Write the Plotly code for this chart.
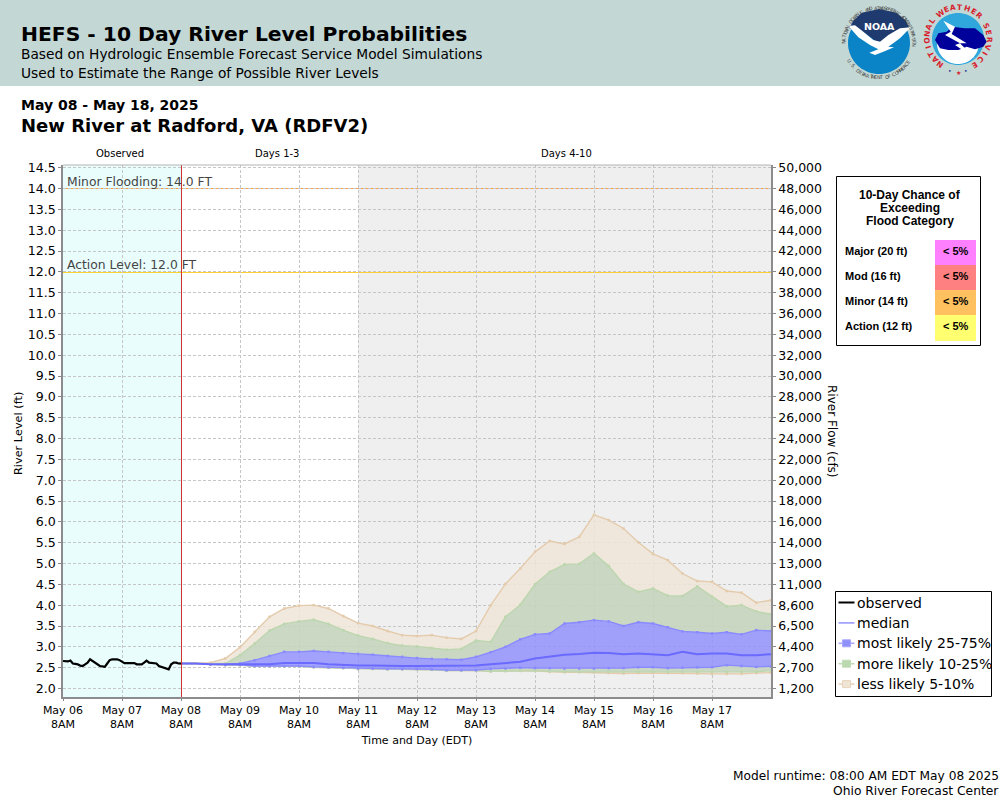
import math
import pandas as pd
import plotly.graph_objects as go

# ---------- data ----------
obs_start, obs_end = "2025-05-06 08:00", "2025-05-08 08:00"
fc_start, fc_end = "2025-05-08 08:00", "2025-05-18 08:00"
observed = [2.66,2.65,2.65,2.67,2.60,2.59,2.58,2.55,2.54,2.58,2.62,2.70,2.66,2.62,2.58,2.54,2.53,2.52,
            2.60,2.68,2.70,2.70,2.70,2.68,2.64,2.61,2.61,2.61,2.61,2.61,2.58,2.58,2.58,2.62,2.67,2.62,
            2.61,2.61,2.60,2.54,2.52,2.50,2.48,2.46,2.58,2.62,2.62,2.60,2.60]
p95 = [2.60,2.60,2.62,2.72,2.99,3.36,3.72,3.92,3.99,4.00,3.92,3.74,3.57,3.50,3.38,3.28,3.26,3.28,3.22,3.19,3.38,
       4.00,4.51,4.88,5.28,5.54,5.47,5.64,6.17,6.04,5.84,5.51,5.23,5.08,4.76,4.58,4.56,4.34,4.30,4.06,4.12]
p90 = [2.60,2.60,2.60,2.60,2.80,3.08,3.39,3.55,3.61,3.65,3.55,3.40,3.27,3.19,3.09,3.03,3.01,2.97,2.93,2.95,3.15,
       3.12,3.72,4.01,4.50,4.80,4.98,4.99,5.24,4.94,4.51,4.32,4.40,4.23,4.22,4.45,4.20,3.97,4.00,3.85,3.78]
p75 = [2.60,2.60,2.59,2.58,2.60,2.68,2.78,2.88,2.88,2.90,2.88,2.85,2.83,2.81,2.78,2.76,2.73,2.71,2.70,2.69,2.76,
       2.87,3.00,3.18,3.30,3.32,3.56,3.59,3.64,3.61,3.50,3.59,3.56,3.47,3.37,3.35,3.32,3.35,3.30,3.40,3.38]
median = [2.60,2.60,2.58,2.58,2.58,2.58,2.58,2.61,2.61,2.61,2.58,2.56,2.55,2.55,2.54,2.54,2.54,2.54,2.54,2.54,2.55,
          2.58,2.61,2.64,2.72,2.76,2.81,2.83,2.86,2.85,2.82,2.84,2.82,2.80,2.88,2.82,2.84,2.84,2.80,2.80,2.82]
p25 = [2.60,2.60,2.58,2.57,2.57,2.54,2.54,2.54,2.54,2.52,2.51,2.50,2.48,2.48,2.47,2.47,2.47,2.46,2.44,2.44,2.44,
       2.47,2.48,2.50,2.49,2.49,2.48,2.48,2.48,2.49,2.49,2.51,2.51,2.49,2.50,2.51,2.51,2.56,2.54,2.52,2.53]
p10 = [2.60,2.60,2.58,2.56,2.56,2.53,2.53,2.53,2.53,2.51,2.50,2.49,2.47,2.47,2.46,2.46,2.46,2.45,2.43,2.43,2.43,
       2.41,2.42,2.43,2.43,2.41,2.40,2.40,2.40,2.40,2.39,2.40,2.40,2.40,2.40,2.40,2.40,2.40,2.40,2.40,2.43]
p5  = [2.60,2.60,2.58,2.56,2.56,2.53,2.53,2.53,2.53,2.51,2.50,2.49,2.47,2.47,2.46,2.46,2.46,2.45,2.43,2.43,2.43,
       2.41,2.42,2.42,2.42,2.40,2.39,2.39,2.38,2.37,2.36,2.37,2.37,2.37,2.37,2.36,2.35,2.35,2.35,2.37,2.38]
minor_level, action_level = 14.0, 12.0
left_ticks = [14.5,14.0,13.5,13.0,12.5,12.0,11.5,11.0,10.5,10.0,9.5,9.0,8.5,8.0,7.5,7.0,6.5,6.0,5.5,5.0,4.5,4.0,3.5,3.0,2.5,2.0]
flow_labels = ["50,000","48,000","46,000","44,000","42,000","40,000","38,000","36,000","34,000","32,000","30,000",
               "28,000","26,000","24,000","22,000","20,000","18,000","16,000","14,000","13,000","11,000","8,600",
               "6,500","4,400","2,700","1,200"]
date_ticks = pd.date_range("2025-05-06 08:00", "2025-05-17 08:00", freq="D")
date_labels = ["May 06<br>8AM","May 07<br>8AM","May 08<br>8AM","May 09<br>8AM","May 10<br>8AM","May 11<br>8AM",
               "May 12<br>8AM","May 13<br>8AM","May 14<br>8AM","May 15<br>8AM","May 16<br>8AM","May 17<br>8AM"]
cat_rows = ["Major (20 ft)","Mod (16 ft)","Minor (14 ft)","Action (12 ft)"]
cat_vals = ["< 5%","< 5%","< 5%","< 5%"]
cat_cols = ["#ff80ff","#ff8080","#ffc060","#ffff70"]

# ---------- geometry ----------
L,R,T,B = 63,771,165,697
def px(x): return (x-L)/(R-L)
def py(y): return (B-y)/(B-T)
x_obs = pd.date_range(obs_start, obs_end, periods=len(observed))
x_fc = pd.date_range(fc_start, fc_end, periods=len(p95))

ann=[]; shp=[]
def text(x,y,t,size,color="#000",font="DejaVu Sans",anchor="left",angle=0,bold=False):
    if bold: t=f"<b>{t}</b>"
    ann.append(dict(xref="paper",yref="paper",x=px(x),y=py(y),text=t,showarrow=False,xanchor=anchor,yanchor="middle",
                    align=anchor,textangle=angle,font=dict(size=size,color=color,family=font),borderpad=0,borderwidth=0))
def rect(x0,y0,x1,y1,fill=None,line=None,lw=1):
    shp.append(dict(type="rect",xref="paper",yref="paper",x0=px(x0),x1=px(x1),y0=py(y0),y1=py(y1),layer="above",
                    fillcolor=fill or "rgba(0,0,0,0)",line=dict(color=line or "rgba(0,0,0,0)",width=lw if line else 0)))
def seg(x0,y0,x1,y1,color,w):
    shp.append(dict(type="line",xref="paper",yref="paper",x0=px(x0),x1=px(x1),y0=py(y0),y1=py(y1),layer="above",line=dict(color=color,width=w)))
def poly(pts,fill,close=True):
    d="M"+" L".join(f"{px(a):.5f},{py(b):.5f}" for a,b in pts)+(" Z" if close else "")
    shp.append(dict(type="path",xref="paper",yref="paper",path=d,fillcolor=fill,line=dict(width=0),layer="above"))
def circ(cx,cy,r,a0=0,a1=360,n=72):
    return [(cx+r*math.cos(math.radians(a0+(a1-a0)*i/n)),cy-r*math.sin(math.radians(a0+(a1-a0)*i/n))) for i in range(n+1)]
def ring(s,cx,cy,r,start,step,size,color,font="DejaVu Sans",bold=False,inward=False):
    for i,ch in enumerate(s):
        if ch==" ": continue
        a=start+step*i
        x=cx+r*math.cos(math.radians(a)); y=cy-r*math.sin(math.radians(a))
        text(x,y,ch,size,color,font,"center",(90-a) if not inward else (270-a),bold)
def Z(x,y): return (820+x/3,y/3)   # logo drawing units

# header
rect(0,0,1000,86,"#c3d7d5")
text(21,33.5,"HEFS - 10 Day River Level Probabilities",20.3,"#000",bold=True)
text(21,54,"Based on Hydrologic Ensemble Forecast Service Model Simulations",13.76)
text(21,73,"Used to Estimate the Range of Possible River Levels",13.76)
text(21,105,"May 08 - May 18, 2025",14,bold=True)
text(21,125.5,"New River at Radford, VA (RDFV2)",18,bold=True)

# NOAA logo
poly(circ(879,43,31),"#0a84c6")
poly([Z(88,85),Z(100,62),Z(125,38),Z(178,27),Z(230,38),Z(258,62),Z(268,85),Z(230,100),Z(195,125),Z(170,125),Z(135,100)],"#1f3a6e")
poly([Z(85,78),Z(105,76),Z(130,95),Z(160,120),Z(180,125),Z(205,105),Z(240,85),Z(272,82),Z(240,115),Z(205,140),Z(222,142),Z(190,155),
      Z(165,165),Z(148,158),Z(175,148),Z(150,135),Z(115,112)],"#ffffff")
text(879,26,"NOAA",9.5,"#ffffff",anchor="center",bold=True)
ring("NATIONAL OCEANIC AND ATMOSPHERIC ADMINISTRATION",879,43,35,178,-3.95,4.8,"#444")
ring("U.S. DEPARTMENT OF COMMERCE",879,43,35,212,4.4,4.8,"#444",inward=True)
# NWS logo
poly(circ(958,39,26),"#2fa7dc")
poly(circ(958,43,21,180,360),"#ffffff")
poly([Z(345,120),Z(355,100),Z(380,95),Z(395,80),Z(435,85),Z(465,85),Z(490,105),Z(500,125),Z(490,140),Z(465,148),Z(440,140),Z(415,150),
      Z(385,150),Z(360,145)],"#00009a")
poly([Z(370,62),Z(405,80),Z(395,102),Z(440,130),Z(420,130),Z(465,175),Z(405,135),Z(420,130),Z(375,105),Z(392,95)],"#ffffff")
ring("NATIONAL",958,38.5,31,235,-12.8,7.5,"#d8202c",bold=True)
ring("WEATHER",958,38.5,31,125,-13,7.5,"#d8202c",bold=True)
ring("SERVICE",958,38.5,31,25,-13.8,7.5,"#d8202c",bold=True)
text(958,72,"★",6,"#d8202c",anchor="center")
text(950,71,"•",6,"#1a2a8a",anchor="center")
text(966,71,"•",6,"#1a2a8a",anchor="center")

# region labels
text(120,153.5,"Observed",10,anchor="center")
text(276.5,153.5,"Days 1-3",10,anchor="center")
text(566,153.5,"Days 4-10",10,anchor="center")
# threshold labels
text(67,181.5,"Minor Flooding: 14.0 FT",12.35,"#444")
text(67,264.5,"Action Level: 12.0 FT",12.35,"#444")
# axis titles
text(18,434,"River Level (ft)",11.3,anchor="center",angle=-90)
text(832,431,"River Flow (cfs)",12,anchor="center",angle=90)

# category table
rect(836.5,176.5,980.5,345.5,"#ffffff","#000000",1)
for i,t in enumerate(["10-Day Chance of","Exceeding","Flood Category"]):
    text(910,195+i*13,t,12,font="Liberation Sans",anchor="center",bold=True)
for i,(n,v,c) in enumerate(zip(cat_rows,cat_vals,cat_cols)):
    y0=240+i*25
    rect(935,y0,976,y0+(26 if i==3 else 25),c)
    text(845,y0+11,n,11,font="Liberation Sans",bold=True)
    text(955.5,y0+11,v,11,font="Liberation Sans",anchor="center",bold=True)

# legend panel
rect(835.5,591.5,991.5,696.5,"#ffffff","#000000",1)
legend_items=[("observed","#000000",None,2),("median","#9a9aff",None,1.6),
              ("most likely 25-75%","#a8a8ff","#9090fa",1.6),("more likely 10-25%","#c0dcb4","#bcd8b0",1.6),("less likely 5-10%","#e8d4bc","#f0e4d4",1.6)]
for i,(n,lc,mc,w) in enumerate(legend_items):
    y=602.5+i*20.4
    seg(838.5,y,854.5,y,lc,w)
    if mc: rect(842.5,y-3.5,850.5,y+3.5,mc,lc,1)
    text(857,y,n,14)

# footer
text(999,776,"Model runtime: 08:00 AM EDT May 08 2025",12.2,anchor="right")
text(999,791,"Ohio River Forecast Center",12.3,anchor="right")

# chart background regions and thresholds (on data axes)
shapes_data=[
 dict(type="rect",xref="x",yref="paper",x0=obs_start,x1=obs_end,y0=0,y1=1,fillcolor="#e9fdfd",line=dict(width=0),layer="below"),
 dict(type="rect",xref="x",yref="paper",x0="2025-05-11 08:00",x1=fc_end,y0=0,y1=1,fillcolor="#efefef",line=dict(width=0),layer="below"),
 dict(type="line",xref="paper",yref="y",x0=0,x1=1,y0=minor_level,y1=minor_level,line=dict(color="#ffa040",width=1),layer="between"),
 dict(type="line",xref="paper",yref="y",x0=0,x1=1,y0=action_level-0.016,y1=action_level-0.016,line=dict(color="#fbd030",width=1),layer="between"),
 dict(type="line",xref="x",yref="paper",x0="2025-05-08 08:12",x1="2025-05-08 08:12",y0=0,y1=1,line=dict(color="#d03030",width=1),layer="above"),
 dict(type="line",xref="paper",yref="paper",x0=0,x1=1,y0=1,y1=1,line=dict(color="#b4b4b4",width=1),layer="above"),
]

fig=go.Figure()
TAN="#e4cbac"; GRN="#bcd6ae"; BLU="#8a8aff"
TANF="rgba(238,228,216,0.85)"; GRNF="rgba(197,212,190,0.90)"; BLUF="rgba(146,146,252,0.85)"
def band(y,lc,fill,name):
    fig.add_trace(go.Scatter(x=x_fc,y=y,mode="lines+markers",line=dict(color=lc,width=1.4),marker=dict(size=2.5,color=lc,symbol="square"),
                             fill=fill[0] if fill else None,fillcolor=fill[1] if fill else None,showlegend=False,name=name,hoverinfo="skip"))
band(p5,TAN,None,"p5")
band(p10,GRN,("tonexty",TANF),"p10")
band(p25,BLU,("tonexty",GRNF),"p25")
band(p75,BLU,("tonexty",BLUF),"p75")
band(p90,GRN,("tonexty",GRNF),"p90")
band(p95,TAN,("tonexty",TANF),"p95")
fig.add_trace(go.Scatter(x=x_fc,y=median,mode="lines",line=dict(color="#6a6aff",width=2),showlegend=False,name="median"))
fig.add_trace(go.Scatter(x=x_obs,y=observed,mode="lines",line=dict(color="#000",width=2.2),showlegend=False,name="observed"))
# right axis carrier
fig.add_trace(go.Scatter(x=[None],y=[None],yaxis="y2",showlegend=False,hoverinfo="skip"))

yrange=[1.796,14.564]
fig.update_layout(
    width=1000,height=800,margin=dict(l=L,r=1000-R,t=T,b=800-B,autoexpand=False),
    paper_bgcolor="#ffffff",plot_bgcolor="#ffffff",
    font=dict(family="DejaVu Sans",color="#000",size=13),
    xaxis=dict(type="date",range=[obs_start,fc_end],tickvals=list(date_ticks),ticktext=date_labels,tickangle=0,
               tickfont=dict(size=11),ticks="outside",ticklen=2,tickcolor="#888",
               showgrid=True,gridcolor="#c6c6c6",griddash="3px,2px",gridwidth=1,
               showline=True,linecolor="#8c8c8c",linewidth=1.5,zeroline=False,
               title=dict(text="Time and Day (EDT)",font=dict(size=11),standoff=6)),
    yaxis=dict(range=yrange,tickvals=left_ticks,ticktext=[f"{v:.1f}" for v in left_ticks],tickfont=dict(size=12.6),
               ticks="outside",ticklen=3,tickcolor="#888",showgrid=True,gridcolor="#c6c6c6",griddash="3px,2px",gridwidth=1,
               showline=True,linecolor="#8c8c8c",linewidth=1.5,zeroline=False),
    yaxis2=dict(range=yrange,overlaying="y",side="right",tickvals=left_ticks,ticktext=flow_labels,tickfont=dict(size=12.5),
                ticks="outside",ticklen=3,tickcolor="#888",showgrid=False,zeroline=False,
                showline=True,linecolor="#8c8c8c",linewidth=1.5),
    showlegend=False,shapes=shapes_data+shp,annotations=ann,
)
fig.write_html("out.html",config=dict(displayModeBar=False),post_script="document.body.style.margin='0';")
